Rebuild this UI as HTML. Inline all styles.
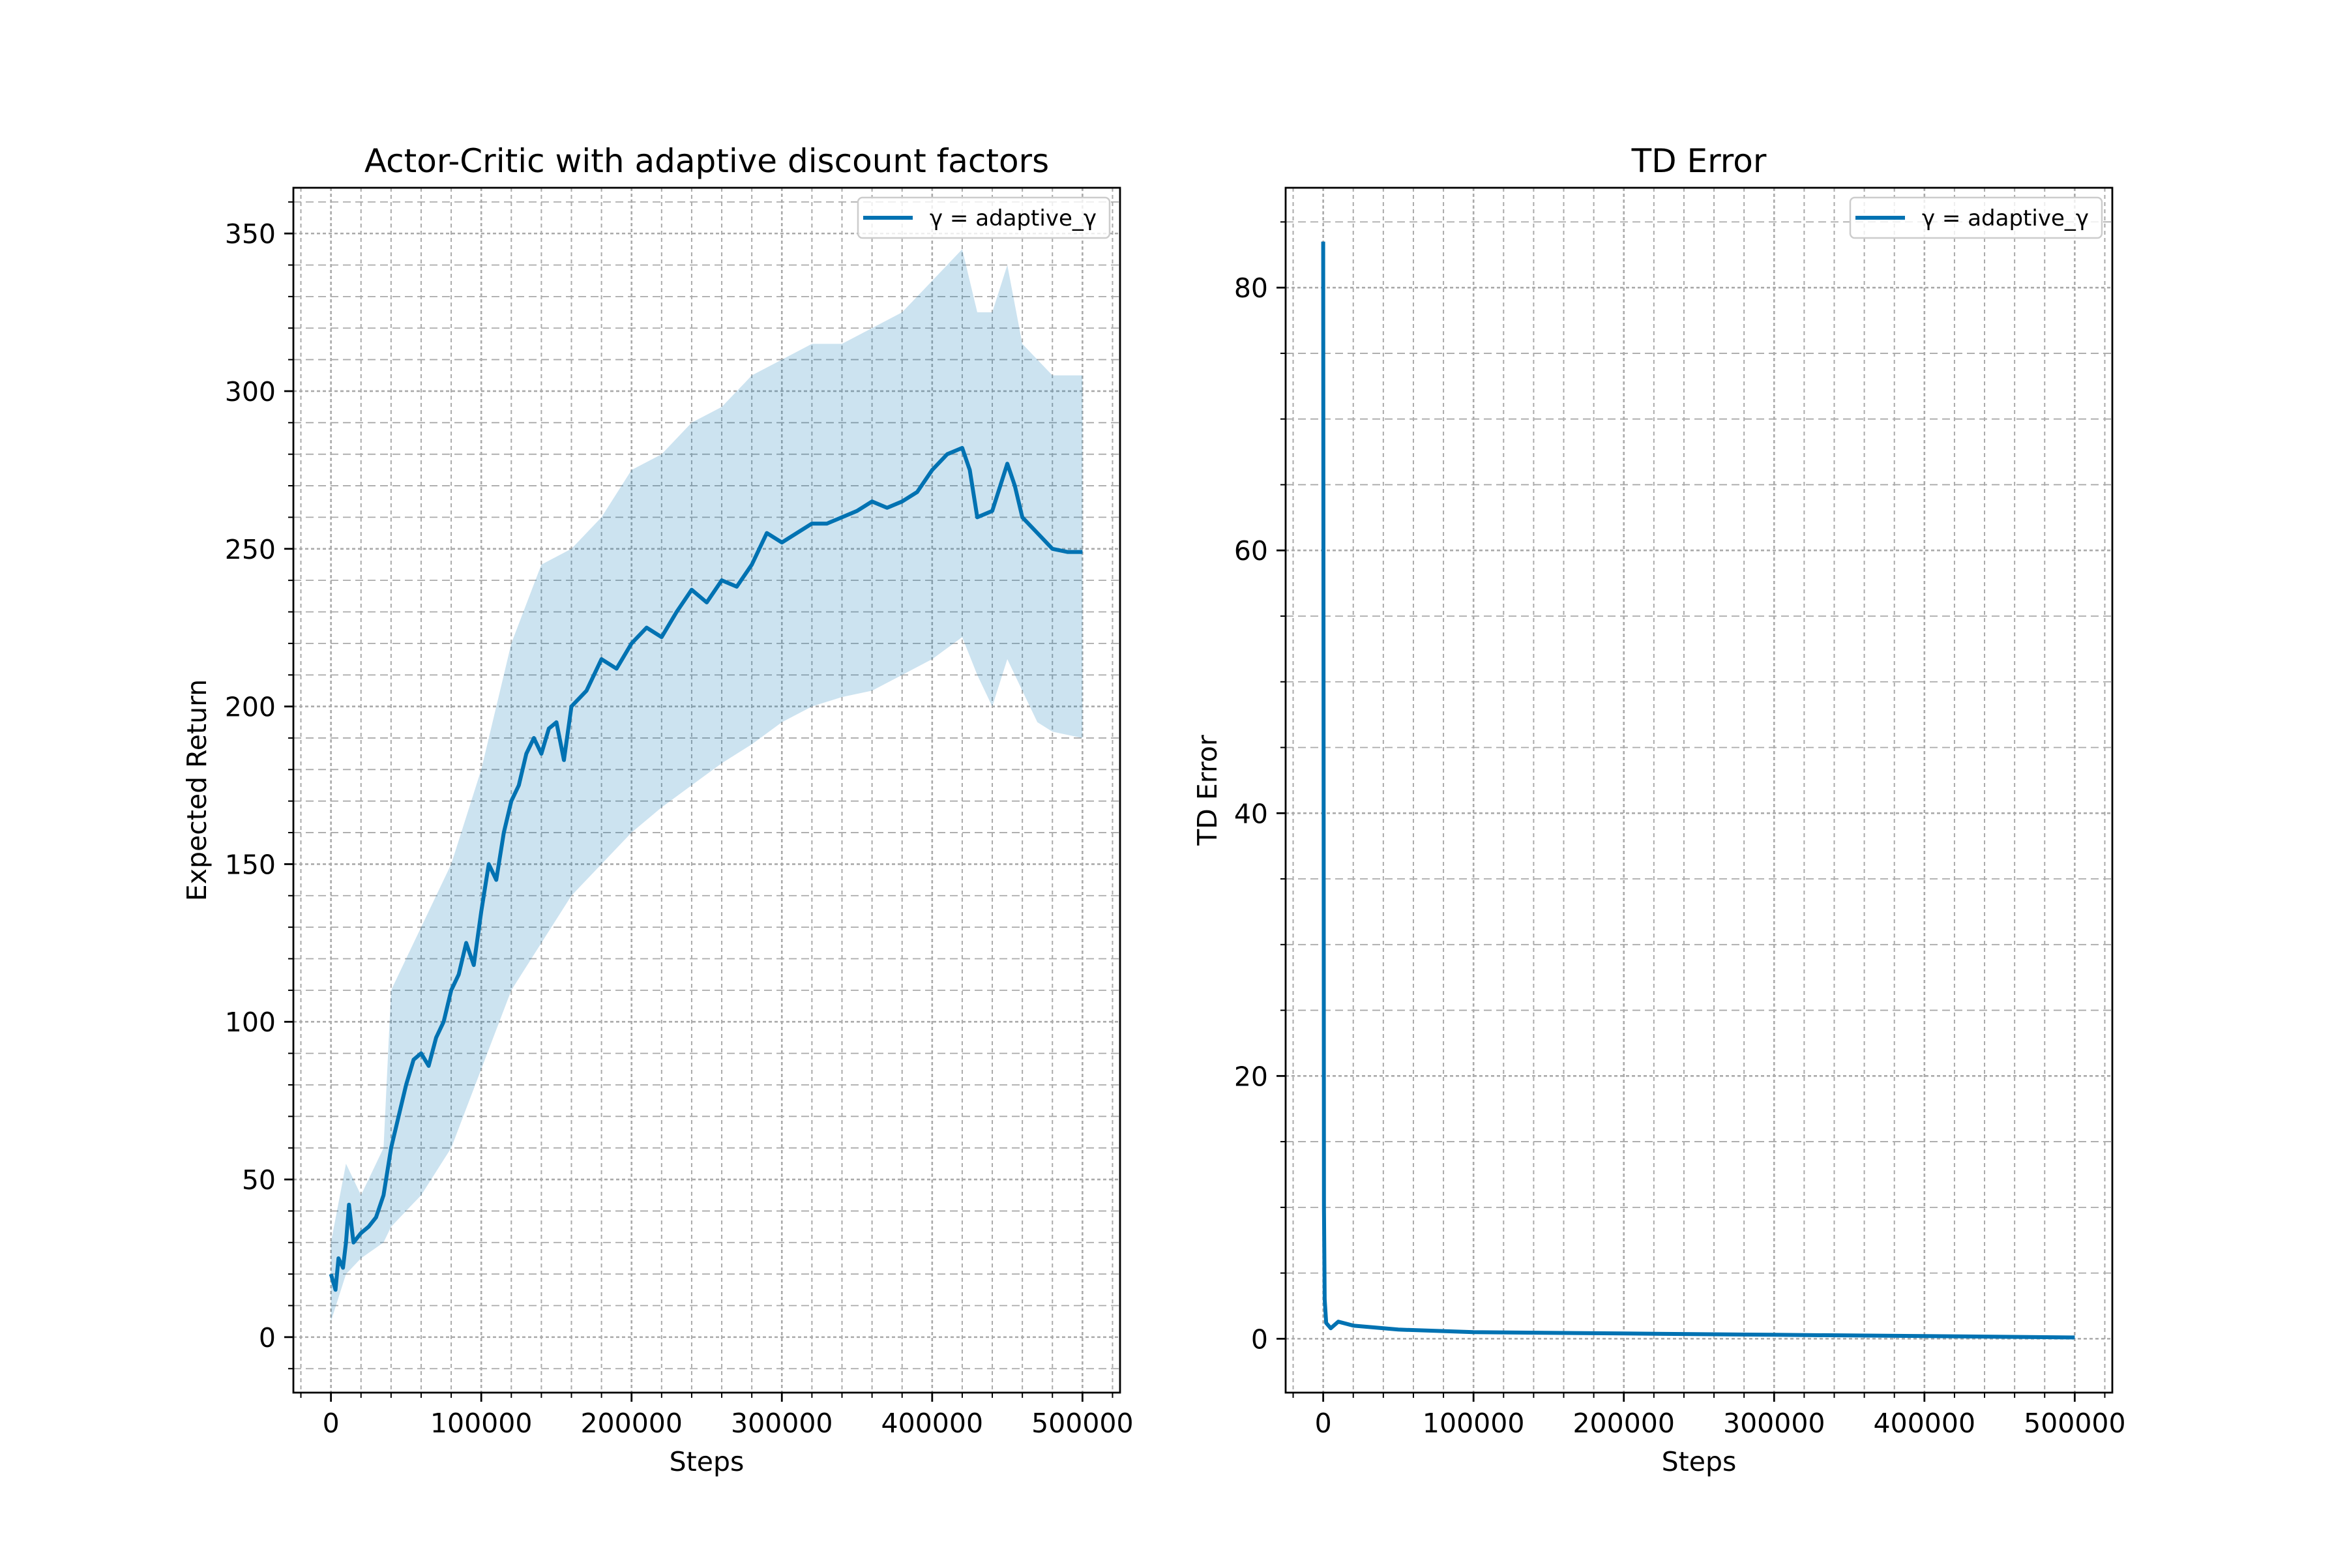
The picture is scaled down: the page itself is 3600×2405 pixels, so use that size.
<!DOCTYPE html>
<html><head><meta charset="utf-8"><style>
html,body{margin:0;padding:0;background:#fff}
svg text{font-family:"DejaVu Sans","Liberation Sans",sans-serif;fill:#000}
</style></head><body>
<svg id="fig" width="3600" height="2400" viewBox="0 0 3600 2400" xmlns="http://www.w3.org/2000/svg">
<rect width="3600" height="2400" fill="#fff"/>
</svg>
<script>
// ---- Data: left panel (Expected Return) ----
const retSteps = [0,3000,5000,8000,10000,12000,15000,20000,25000,30000,35000,40000,45000,50000,55000,60000,65000,70000,75000,80000,85000,90000,95000,100000,105000,110000,115000,120000,125000,130000,135000,140000,145000,150000,155000,160000,170000,180000,190000,200000,210000,220000,230000,240000,250000,260000,270000,280000,290000,300000,310000,320000,330000,340000,350000,360000,370000,380000,390000,400000,410000,420000,425000,430000,440000,450000,455000,460000,470000,480000,490000,500000];
const retMean = [20,15,25,22,30,42,30,33,35,38,45,60,70,80,88,90,86,95,100,110,115,125,118,135,150,145,160,170,175,185,190,185,193,195,183,200,205,215,212,220,225,222,230,237,233,240,238,245,255,252,255,258,258,260,262,265,263,265,268,275,280,282,275,260,262,277,270,260,255,250,249,249];
const bandSteps = [0,10000,20000,35000,40000,50000,60000,80000,100000,120000,140000,160000,180000,200000,220000,240000,260000,280000,300000,320000,340000,360000,380000,400000,420000,430000,440000,450000,460000,470000,480000,500000];
const bandUpper = [30,55,45,60,110,120,130,150,180,220,245,250,260,275,280,290,295,305,310,315,315,320,325,335,345,325,325,340,315,310,305,305];
const bandLower = [5,20,25,30,35,40,45,60,85,110,125,140,150,160,168,175,182,188,195,200,203,205,210,215,222,210,200,215,205,195,192,190];
// ---- Data: right panel (TD Error) ----
const tdSteps = [0,500,1000,2000,5000,10000,20000,50000,100000,200000,300000,400000,500000];
const tdValues = [83.5,10,3,1.2,0.8,1.3,1.0,0.7,0.5,0.4,0.3,0.2,0.1];
// ---- Ticks ----
const xTicks = [0,100000,200000,300000,400000,500000];
const leftYTicks = [0,50,100,150,200,250,300,350];
const rightYTicks = [0,20,40,60,80];

const NS="http://www.w3.org/2000/svg";
const svg=document.getElementById('fig');
function el(tag,attrs,parent,text){const e=document.createElementNS(NS,tag);for(const k in attrs)e.setAttribute(k,attrs[k]);if(text!==undefined)e.textContent=text;(parent||svg).appendChild(e);return e;}

function panel(o){
  const L=o.x0,R=o.x1,T=288,B=2136;
  const g=el('g',{});
  
  
  const xs=v=>L+(v-(-25000))/(550000)*(R-L);
  const ys=v=>B-(v-o.ymin)/(o.ymax-o.ymin)*(B-T);
  for(let v=-20000;v<=520000;v+=20000){if(v%100000===0)continue;el('line',{x1:xs(v),x2:xs(v),y1:T,y2:B,stroke:'#aaaaaa','stroke-width':2,'stroke-dasharray':'6 5'},g);}
  for(let v=Math.ceil(o.ymin/o.minor)*o.minor;v<=o.ymax;v+=o.minor){if(Math.abs(v%o.major)<1e-9)continue;el('line',{x1:L,x2:R,y1:ys(v),y2:ys(v),stroke:'#aaaaaa','stroke-width':1.8,'stroke-dasharray':'12 7'},g);}
  xTicks.forEach(v=>el('line',{x1:xs(v),x2:xs(v),y1:T,y2:B,stroke:'#aaaaaa','stroke-width':2.6,'stroke-dasharray':'5 4'},g));
  o.yTicks.forEach(v=>el('line',{x1:L,x2:R,y1:ys(v),y2:ys(v),stroke:'#aaaaaa','stroke-width':2.6,'stroke-dasharray':'5 4'},g));
  o.draw(g,xs,ys);
  const sp=el('rect',{x:L,y:T,width:R-L,height:B-T,fill:'none',stroke:'#000','stroke-width':2.8},g);
  
  for(let v=-20000;v<=520000;v+=20000){if(v%100000===0)continue;el('line',{x1:xs(v),x2:xs(v),y1:B,y2:B+8,stroke:'#000','stroke-width':2},g);}
  for(let v=Math.ceil(o.ymin/o.minor)*o.minor;v<=o.ymax;v+=o.minor){el('line',{x1:L-8,x2:L,y1:ys(v),y2:ys(v),stroke:'#000','stroke-width':2},g);}
  xTicks.forEach(v=>{el('line',{x1:xs(v),x2:xs(v),y1:B,y2:B+14,stroke:'#000','stroke-width':2.8},g);
    const t=el('text',{x:xs(v),y:2197,'font-size':41,'text-anchor':'middle'},g,String(v));
    });
  o.yTicks.forEach(v=>{el('line',{x1:L-14,x2:L,y1:ys(v),y2:ys(v),stroke:'#000','stroke-width':2.8},g);
    const t=el('text',{x:L-27,y:ys(v)+15,'font-size':41,'text-anchor':'end'},g,String(v));
    });
  const ti=el('text',{x:(L+R)/2,y:264,'font-size':50,'text-anchor':'middle'},g,o.title);
  
  const xl=el('text',{x:(L+R)/2,y:2256,'font-size':41,'text-anchor':'middle'},g,'Steps');
  
  const yl=el('text',{x:o.ylx,y:(T+B)/2,'font-size':41,'text-anchor':'middle',transform:`rotate(-90 ${o.ylx} ${(T+B)/2})`},g,o.ylabel);
  
  const lg=el('g',{},g);
  
  const lx=R-402,ly=303;
  el('rect',{x:lx,y:ly,width:386,height:62,rx:7,fill:'#fff','fill-opacity':0.8,stroke:'#cccccc','stroke-width':2.5},lg);
  el('line',{x1:lx+8,x2:lx+84,y1:ly+31,y2:ly+31,stroke:'#0072b2','stroke-width':6},lg);
  el('text',{x:lx+110,y:ly+43,'font-size':34},lg,'γ = adaptive_γ');
}

panel({name:'expected-return-panel',x0:450,x1:1718,ymin:-17.6,ymax:364.5,major:50,minor:10,yTicks:leftYTicks,
  title:'Actor-Critic with adaptive discount factors',ylabel:'Expected Return',ylx:316,
  draw:(g,xs,ys)=>{
    let d='';bandSteps.forEach((s,i)=>{d+=(i?'L':'M')+xs(s).toFixed(1)+','+ys(bandUpper[i]).toFixed(1);});
    for(let i=bandSteps.length-1;i>=0;i--)d+='L'+xs(bandSteps[i]).toFixed(1)+','+ys(bandLower[i]).toFixed(1);
    const b=el('path',{d:d+'Z',fill:'#0072b2','fill-opacity':0.2,stroke:'none'},g);
    
    let p='';retSteps.forEach((s,i)=>{p+=(i?'L':'M')+xs(s).toFixed(1)+','+ys(retMean[i]).toFixed(1);});
    const l=el('path',{d:p,fill:'none',stroke:'#0072b2','stroke-width':6,'stroke-linejoin':'round'},g);
    
  }});
panel({name:'td-error-panel',x0:1972,x1:3240,ymin:-4.1,ymax:87.6,major:20,minor:5,yTicks:rightYTicks,
  title:'TD Error',ylabel:'TD Error',ylx:1866,
  draw:(g,xs,ys)=>{
    let p='';tdSteps.forEach((s,i)=>{p+=(i?'L':'M')+xs(s).toFixed(1)+','+ys(tdValues[i]).toFixed(1);});
    const l=el('path',{d:p,fill:'none',stroke:'#0072b2','stroke-width':6,'stroke-linejoin':'round'},g);
    
  }});
</script>
</body></html>
